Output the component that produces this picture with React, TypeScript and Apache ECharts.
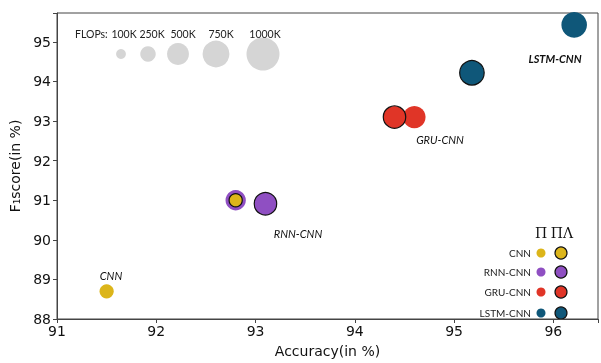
import React, { useEffect, useRef } from "react";
import * as echarts from "echarts";

const models = ["CNN", "RNN-CNN", "GRU-CNN", "LSTM-CNN"];
const colors = ["#dcb51a", "#8f4fc2", "#e03527", "#0f5779"];
// Π variant (no border)
const piAccuracy = [91.5, 92.8, 94.6, 96.21];
const piF1 = [88.7, 91.0, 93.1, 95.43];
const piFlops = [210, 430, 525, 680];
// ΠΛ variant (black border)
const pialAccuracy = [92.8, 93.1, 94.4, 95.18];
const pialF1 = [91.0, 90.91, 93.1, 94.22];
const pialFlops = [180, 525, 525, 625];
// FLOPs size legend
const flopsLegendValues = [100, 250, 500, 750, 1000];
const flopsLegendLabels = ["100K", "250K", "500K", "750K", "1000K"];
const xTicks = [91, 92, 93, 94, 95, 96];
const yTicks = [88, 89, 90, 91, 92, 93, 94, 95];

const sizeOf = (f: number) => Math.sqrt(f) * 0.98;

export default function App() {
  const ref = useRef<HTMLDivElement>(null);
  useEffect(() => {
    document.body.style.margin = "0";
    const chart = echarts.init(ref.current!, null, { renderer: "svg" });
    const series: any[] = [];
    models.forEach((m, i) => {
      series.push({
        type: "scatter",
        name: m + " Π",
        z: 2,
        symbolSize: (v: number[]) => sizeOf(v[2]),
        itemStyle: { color: colors[i], opacity: 1 },
        data: [[piAccuracy[i], piF1[i], piFlops[i]]],
      });
    });
    models.forEach((m, i) => {
      series.push({
        type: "scatter",
        name: m + " ΠΛ",
        z: 3,
        symbolSize: (v: number[]) => sizeOf(v[2]),
        itemStyle: { color: colors[i], borderColor: "#111", borderWidth: 1.2, opacity: 1 },
        data: [[pialAccuracy[i], pialF1[i], pialFlops[i]]],
      });
    });

    const graphics: any[] = [];
    const legendFont = "Lato, 'Open Sans', sans-serif";
    graphics.push({
      type: "text",
      left: 75,
      top: 28,
      style: { text: "FLOPs:", fontSize: 10.5, fontFamily: legendFont, fill: "#222" },
    });
    const flopsX = [121, 148, 178, 216, 263];
    const flopsTextX = [124, 152, 183, 221, 265];
    flopsLegendValues.forEach((f, i) => {
      graphics.push({
        type: "circle",
        shape: { cx: flopsX[i], cy: 54, r: (i === 4 ? 33 : sizeOf(f)) / 2 },
        style: { fill: "#d5d5d5" },
      });
      graphics.push({
        type: "text",
        x: flopsTextX[i],
        y: 34,
        style: {
          text: flopsLegendLabels[i],
          fontSize: 10.5,
          fontFamily: legendFont,
          fill: "#222",
          align: "center",
          verticalAlign: "middle",
        },
      });
    });

    // model labels
    const labelPos = [
      [111, 275, "normal"],
      [298, 233, "normal"],
      [440, 139, "normal"],
      [555, 58, "bold"],
    ];
    models.forEach((m, i) => {
      graphics.push({
        type: "text",
        x: labelPos[i][0],
        y: labelPos[i][1],
        style: {
          text: m,
          fontSize: 11,
          fontStyle: "italic",
          fontWeight: labelPos[i][2],
          fontFamily: legendFont,
          fill: "#111",
          align: "center",
          verticalAlign: "middle",
        },
      });
    });

    // variant legend
    graphics.push({
      type: "text",
      x: 541,
      y: 233,
      style: { text: "Π", fontSize: 14, fontFamily: "'DejaVu Serif', serif", fill: "#111", align: "center", verticalAlign: "middle" },
    });
    graphics.push({
      type: "text",
      x: 562,
      y: 233,
      style: { text: "ΠΛ", fontSize: 14, fontFamily: "'DejaVu Serif', serif", fill: "#111", align: "center", verticalAlign: "middle" },
    });
    const rowY = [253, 272, 292, 313];
    models.forEach((m, i) => {
      graphics.push({
        type: "text",
        x: 531,
        y: rowY[i],
        style: { text: m, fontSize: 10, fontFamily: legendFont, fill: "#222", align: "right", verticalAlign: "middle" },
      });
      graphics.push({
        type: "circle",
        shape: { cx: 541, cy: rowY[i], r: 4.5 },
        style: { fill: colors[i] },
      });
      graphics.push({
        type: "circle",
        shape: { cx: 561, cy: rowY[i], r: 6 },
        style: { fill: colors[i], stroke: "#111", lineWidth: 1.2 },
      });
    });

    const axisFont = "'DejaVu Sans', sans-serif";
    chart.setOption({
      animation: false,
      grid: { left: 57, right: 3, top: 13, bottom: 37, show: true, borderColor: "#444", borderWidth: 1, backgroundColor: "transparent" },
      xAxis: {
        type: "value",
        min: 91,
        max: 96.45,
        interval: 1,
        name: "Accuracy(in %)",
        nameLocation: "middle",
        nameGap: 25,
        nameTextStyle: { fontSize: 14, fontFamily: axisFont, color: "#111" },
        axisLine: { show: true, lineStyle: { color: "#444", width: 1 } },
        axisTick: { show: true, length: 4, lineStyle: { color: "#444" } },
        axisLabel: {
          fontSize: 14,
          fontFamily: axisFont,
          color: "#111",
          margin: 5,
          formatter: (v: number) => (xTicks.indexOf(v) >= 0 ? String(v) : ""),
        },
        splitLine: { show: false },
      },
      yAxis: {
        type: "value",
        min: 88,
        max: 95.73,
        interval: 1,
        name: "F₁score(in %)",
        nameLocation: "middle",
        nameGap: 35,
        nameTextStyle: { fontSize: 14, fontFamily: axisFont, color: "#111" },
        axisLine: { show: true, lineStyle: { color: "#444", width: 1 } },
        axisTick: { show: true, length: 4, lineStyle: { color: "#444" } },
        axisLabel: {
          fontSize: 14,
          fontFamily: axisFont,
          color: "#111",
          margin: 6,
          formatter: (v: number) => (yTicks.indexOf(v) >= 0 ? String(v) : ""),
        },
        splitLine: { show: false },
      },
      series,
      graphic: graphics,
    });
    return () => chart.dispose();
  }, []);
  return <div ref={ref} style={{ position: "fixed", left: 0, top: 0, width: 601, height: 363 }} />;
}
